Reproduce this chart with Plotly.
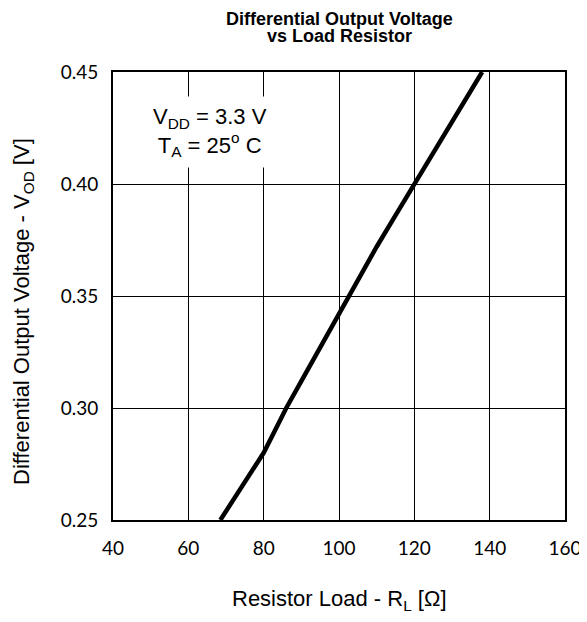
import plotly.graph_objects as go

# Data
load_resistor = [68.5, 72, 76, 80, 83, 86, 90, 95, 100, 105, 110, 115, 120, 125, 130, 134, 138]
vod = [0.250, 0.259, 0.269, 0.280, 0.290, 0.300, 0.312, 0.327, 0.343, 0.358, 0.372, 0.386, 0.400, 0.414, 0.428, 0.439, 0.450]

x_ticks = [40, 60, 80, 100, 120, 140, 160]
y_ticks = [0.25, 0.30, 0.35, 0.40, 0.45]
y_tick_labels = ["0.25", "0.30", "0.35", "0.40", "0.45"]

fig = go.Figure()
fig.add_trace(go.Scatter(x=load_resistor, y=vod, mode="lines",
                         line=dict(color="black", width=4.5), showlegend=False,
                         hoverinfo="skip"))

axis_common = dict(showgrid=True, gridcolor="black", gridwidth=1.2,
                   showline=True, linecolor="black", linewidth=2, mirror=True,
                   zeroline=False, ticks="outside", automargin=False,
                   tickcolor="rgba(0,0,0,0)",
                   tickfont=dict(family="Lato", size=19, color="black"))

fig.update_xaxes(range=[40, 160], tickvals=x_ticks, ticklen=10, **axis_common)
fig.update_yaxes(range=[0.25, 0.45], tickvals=y_ticks, ticktext=y_tick_labels,
                 ticklen=9, **axis_common)

# The page body adds an 8px margin, so the figure is sized/placed to compensate
fig.update_layout(
    width=579, height=614,
    margin=dict(l=105, r=22, t=64, b=102),
    plot_bgcolor="white", paper_bgcolor="white",
    annotations=[
        dict(text="<b>Differential Output Voltage</b>", xref="paper", yref="paper",
             x=0.5, y=1, xanchor="center", yanchor="middle", yshift=53, showarrow=False,
             font=dict(family="Liberation Sans", size=18, color="black")),
        dict(text="<b>vs Load Resistor</b>", xref="paper", yref="paper",
             x=0.5, y=1, xanchor="center", yanchor="middle", yshift=36, showarrow=False,
             font=dict(family="Liberation Sans", size=18, color="black")),
        dict(text="Resistor Load - R<sub>L</sub> [Ω]", xref="paper", yref="paper",
             x=0.5, y=0, xanchor="center", yanchor="middle", yshift=-80, showarrow=False,
             font=dict(family="Liberation Sans", size=22, color="black")),
        dict(text="Differential Output Voltage - V<sub>OD</sub> [V]", xref="paper", yref="paper",
             x=0, y=0.5, xanchor="center", yanchor="middle", xshift=-90, yshift=-16,
             textangle=-90, showarrow=False,
             font=dict(family="Liberation Sans", size=22, color="black")),
        dict(text="V<sub>DD</sub> = 3.3 V<br>T<sub>A</sub> = 25<sup>o</sup> C",
             xref="x", yref="y", x=65.8, y=0.4232, xanchor="center", yanchor="middle",
             showarrow=False, bgcolor="white", borderpad=7,
             font=dict(family="Liberation Sans", size=22, color="black")),
    ],
)

fig.write_html("out.html")
